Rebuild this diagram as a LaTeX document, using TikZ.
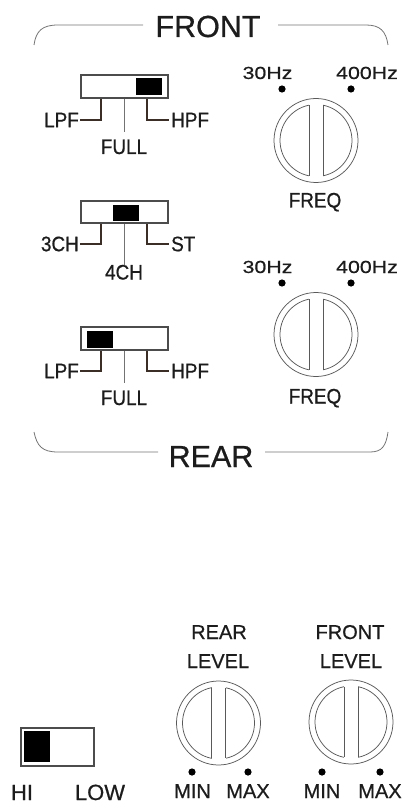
\documentclass[tikz,border=0pt]{standalone}
\usepackage{fontspec}
\setmainfont{Liberation Sans}[FakeBold=0.7]
\newfontfamily\widefont[FakeStretch=1.22,FakeBold=0.7]{Liberation Sans}
\newfontfamily\narrowfont[FakeStretch=0.9,FakeBold=0.7]{Liberation Sans}
\definecolor{leadcol}{HTML}{3B2E27}
\definecolor{txtcol}{HTML}{1C1C1C}
\begin{document}
\begin{tikzpicture}[x=1pt,y=-1pt,
  txt/.style={inner sep=0pt, text=txtcol},
  big/.style={txt, font=\fontsize{30.5}{30.5}\selectfont},
  sw/.style={txt, font=\narrowfont\fontsize{21}{21}\selectfont},
  hz/.style={txt, font=\widefont\fontsize{17.5}{17.5}\selectfont},
  lev/.style={txt, font=\fontsize{20}{20}\selectfont},
  hilo/.style={txt, font=\fontsize{22}{22}\selectfont},
  bracket/.style={draw=black!55, line width=0.8pt},
  swbox/.style={draw=black!70, line width=1.3pt, fill=white},
  block/.style={fill=black},
  lead/.style={draw=leadcol, line width=2.6pt},
  mid/.style={draw=black!55, line width=0.7pt},
  knobline/.style={draw=black!65, line width=0.75pt},
  dot/.style={fill=black},
  knob/.pic={
    \draw[knobline] (0,0) circle[radius=42pt];
    \draw[knobline] (0,0) circle[radius=36pt];
    \fill[white] (-7,-38) rectangle (7,38);
    \draw[knobline] (-7,-35.3) -- (-7,35.3) (7,-35.3) -- (7,35.3);
  }]
\useasboundingbox (0,0) rectangle (413,805);

% FRONT bracket
\node[big, anchor=base] (front) at (208,37) {FRONT};
\draw[bracket] (34,45) .. controls (36,31) and (42,25) .. (58,25) -- (143,25);
\draw[bracket] (278,25) -- (366,25) .. controls (380,25) and (386,31) .. (388,45);

% REAR bracket
\node[big, anchor=base] (rear) at (211,467) {REAR};
\draw[bracket] (34,432) .. controls (37,446) and (42,452) .. (58,452) -- (158,452);
\draw[bracket] (265,452) -- (370,452) .. controls (382,452) and (386,446) .. (388,432);

% switch 1
\draw[lead] (101,98) -- (101,120) -- (80,120);
\draw[lead] (147,98) -- (147,120) -- (169,120);
\draw[mid] (124,98) -- (124,132);
\draw[swbox] (81,75) rectangle (168,98);
\fill[block] (136,78.5) rectangle (162,95.5);
\node[sw, anchor=east] (lpf1) at (79,120) {LPF};
\node[sw, anchor=west] (hpf1) at (171,120) {HPF};
\node[sw, anchor=base] (full1) at (124,154) {FULL};

% switch 2
\draw[lead] (101,223) -- (101,244) -- (80,244);
\draw[lead] (147,223) -- (147,244) -- (169,244);
\draw[mid] (124,223) -- (124,265);
\draw[swbox] (81,201) rectangle (168,223);
\fill[block] (113,205) rectangle (139,221);
\node[sw, anchor=east] (ch3) at (79,244) {3CH};
\node[sw, anchor=west] (st) at (171,244) {ST};
\node[sw, anchor=base] (ch4) at (124,279.5) {4CH};

% switch 3
\draw[lead] (101,350) -- (101,371) -- (80,371);
\draw[lead] (147,350) -- (147,371) -- (169,371);
\draw[mid] (124,350) -- (124,383);
\draw[swbox] (81,327) rectangle (168,350);
\fill[block] (87,331) rectangle (113,348);
\node[sw, anchor=east] (lpf3) at (79,371) {LPF};
\node[sw, anchor=west] (hpf3) at (171,371) {HPF};
\node[sw, anchor=base] (full3) at (124,405) {FULL};

% knob 1 (front freq)
\node[hz, anchor=base] (f30a) at (267.5,79) {30Hz};
\node[hz, anchor=base] (f400a) at (367,79) {400Hz};
\fill[dot] (282,89) circle[radius=3.6pt];
\fill[dot] (351,89) circle[radius=3.6pt];
\pic at (316,140.5) {knob};
\node[sw, anchor=base] (freq1) at (315,207.5) {FREQ};

% knob 2 (rear freq)
\node[hz, anchor=base] (f30b) at (267.5,273) {30Hz};
\node[hz, anchor=base] (f400b) at (367,273) {400Hz};
\fill[dot] (282,283) circle[radius=3.6pt];
\fill[dot] (351,283) circle[radius=3.6pt];
\pic at (316,334.5) {knob};
\node[sw, anchor=base] (freq2) at (315,403.5) {FREQ};

% level knobs
\node[lev, anchor=base] (rl1) at (219,639) {REAR};
\node[lev, anchor=base] (rl2) at (218,668) {LEVEL};
\pic at (218.5,723) {knob};
\fill[dot] (192,772) circle[radius=3.6pt];
\fill[dot] (248,772) circle[radius=3.6pt];
\node[lev, anchor=base] (min1) at (192.5,798) {MIN};
\node[lev, anchor=base] (max1) at (248,798) {MAX};

\node[lev, anchor=base] (fl1) at (350,639) {FRONT};
\node[lev, anchor=base] (fl2) at (351,668) {LEVEL};
\pic at (351,722) {knob};
\fill[dot] (322,772) circle[radius=3.6pt];
\fill[dot] (380,772) circle[radius=3.6pt];
\node[lev, anchor=base] (min2) at (322,798) {MIN};
\node[lev, anchor=base] (max2) at (380,798) {MAX};

% HI / LOW switch
\draw[swbox] (21,728) rectangle (94,766);
\fill[block] (24,731) rectangle (50,762);
\node[hilo, anchor=base] (hi) at (22,800) {HI};
\node[hilo, anchor=base] (low) at (100,800) {LOW};
\end{tikzpicture}
\end{document}
